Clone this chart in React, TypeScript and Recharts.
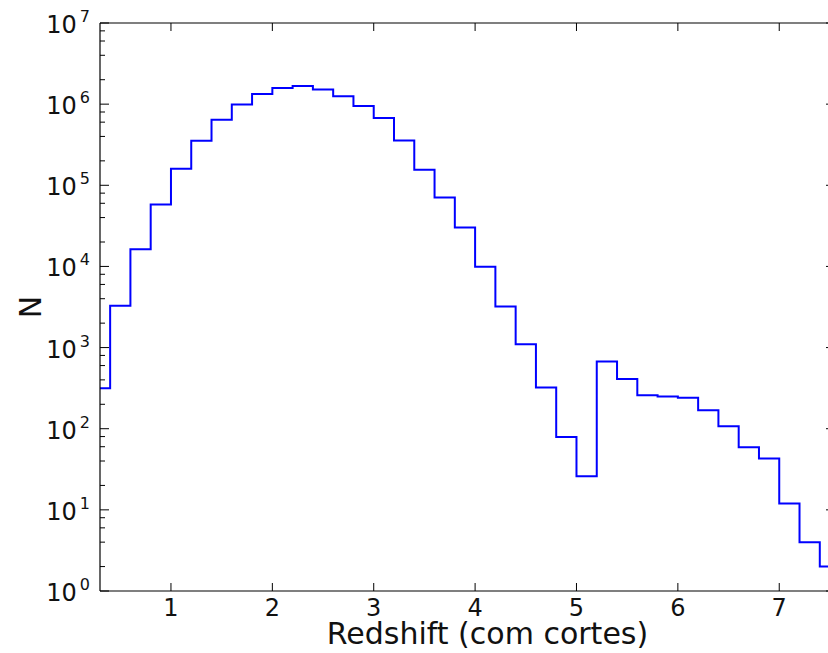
import React from 'react';
import { LineChart, Line, XAxis, YAxis } from 'recharts';

// histogram bin edges (redshift) and counts per bin
const binEdges = [
  0.2, 0.4, 0.6, 0.8, 1.0, 1.2, 1.4, 1.6, 1.8, 2.0, 2.2, 2.4, 2.6, 2.8, 3.0, 3.2, 3.4, 3.6, 3.8,
  4.0, 4.2, 4.4, 4.6, 4.8, 5.0, 5.2, 5.4, 5.6, 5.8, 6.0, 6.2, 6.4, 6.6, 6.8, 7.0, 7.2, 7.4, 7.6,
];
const counts = [
  316, 3270, 16300, 58000, 160000, 354000, 643000, 991000, 1330000, 1580000,
  1670000, 1520000, 1250000, 947000, 674000, 357000, 155000, 70800, 30200, 9890,
  3200, 1100, 321, 79, 26, 673, 411, 259, 249, 240,
  169, 107, 59, 43, 12, 4, 2,
];
const xTicks = [1, 2, 3, 4, 5, 6, 7];
const decades = [1, 10, 100, 1000, 10000, 100000, 1000000, 10000000];
const minorSubs = [2, 4, 6, 8];

// step line: last edge repeats the last count so the final bin gets its top
const data = binEdges.map((x, i) => ({ x, n: counts[Math.min(i, counts.length - 1)] }));

const yTicks: number[] = [];
decades.forEach((d, i) => {
  yTicks.push(d);
  if (i < decades.length - 1) minorSubs.forEach((s) => yTicks.push(s * d));
});

const isMajor = (v: number) => decades.includes(v);
const FONT = 'DejaVu Sans';

const LeftTick = (props: any) => {
  const { x, y, payload } = props;
  const major = isMajor(payload.value);
  const len = major ? 9 : 5;
  return (
    <g>
      <line x1={x} y1={y} x2={x + len} y2={y} stroke="#000" strokeWidth={1} />
      {major && (
        <text x={x - 10} y={y + 10} textAnchor="end" fontFamily={FONT} fontSize={24} fill="#111">
          <tspan>10</tspan>
          <tspan dx={3} dy={-11} fontSize={16}>
            {Math.round(Math.log10(payload.value))}
          </tspan>
        </text>
      )}
    </g>
  );
};

const RightTick = (props: any) => {
  const { x, y, payload } = props;
  const len = isMajor(payload.value) ? 9 : 5;
  return <line x1={x} y1={y} x2={x - len} y2={y} stroke="#000" strokeWidth={1} />;
};

const BottomTick = (props: any) => {
  const { x, y, payload } = props;
  return (
    <g>
      <line x1={x} y1={y} x2={x} y2={y - 8} stroke="#000" strokeWidth={1} />
      <text x={x} y={y + 25} textAnchor="middle" fontFamily={FONT} fontSize={24} fill="#111">
        {payload.value}
      </text>
    </g>
  );
};

const TopTick = (props: any) => {
  const { x, y } = props;
  return <line x1={x} y1={y} x2={x} y2={y + 8} stroke="#000" strokeWidth={1} />;
};

const XTitle = (props: any) => {
  const { viewBox } = props;
  return (
    <text
      x={viewBox.x + viewBox.width / 2 + 20}
      y={viewBox.y + 53}
      textAnchor="middle"
      fontFamily={FONT}
      fontSize={30}
      fill="#111"
    >
      Redshift (com cortes)
    </text>
  );
};

const YTitle = (props: any) => {
  const { viewBox } = props;
  const cx = 41;
  const cy = viewBox.y + viewBox.height / 2;
  return (
    <text
      x={cx}
      y={cy}
      transform={`rotate(-90, ${cx}, ${cy})`}
      textAnchor="middle"
      fontFamily={FONT}
      fontSize={30}
      fill="#111"
    >
      N
    </text>
  );
};

export default function App() {
  return (
    <div style={{ position: 'absolute', left: 0, top: 0, width: 828, height: 653, overflow: 'hidden', background: '#fff' }}>
      <LineChart width={836} height={653} data={data} margin={{ top: 22, right: 0, bottom: 0, left: 10 }}>
        <XAxis
          xAxisId="bottom"
          dataKey="x"
          type="number"
          domain={[0.3, 7.55]}
          allowDataOverflow
          ticks={xTicks}
          interval={0}
          height={62}
          tickSize={0}
          tickMargin={0}
          tickLine={false}
          tick={<BottomTick />}
          axisLine={{ stroke: '#000', strokeWidth: 1.2 }}
          label={<XTitle />}
        />
        <XAxis
          xAxisId="top"
          orientation="top"
          dataKey="x"
          type="number"
          domain={[0.3, 7.55]}
          allowDataOverflow
          ticks={xTicks}
          interval={0}
          height={1}
          tickSize={0}
          tickMargin={0}
          tickLine={false}
          tick={<TopTick />}
          axisLine={{ stroke: '#000', strokeWidth: 1.2 }}
        />
        <YAxis
          yAxisId="left"
          scale="log"
          type="number"
          domain={[1, 10000000]}
          allowDataOverflow
          ticks={yTicks}
          interval={0}
          width={90}
          tickSize={0}
          tickMargin={0}
          tickLine={false}
          tick={<LeftTick />}
          axisLine={{ stroke: '#000', strokeWidth: 1.2 }}
          label={<YTitle />}
        />
        <YAxis
          yAxisId="right"
          orientation="right"
          scale="log"
          type="number"
          domain={[1, 10000000]}
          allowDataOverflow
          ticks={yTicks}
          interval={0}
          width={1}
          tickSize={0}
          tickMargin={0}
          tickLine={false}
          tick={<RightTick />}
          axisLine={{ stroke: '#000', strokeWidth: 1.2 }}
        />
        <Line
          xAxisId="bottom"
          yAxisId="left"
          type="stepAfter"
          dataKey="n"
          stroke="#0000ff"
          strokeWidth={2}
          dot={false}
          isAnimationActive={false}
        />
      </LineChart>
    </div>
  );
}
